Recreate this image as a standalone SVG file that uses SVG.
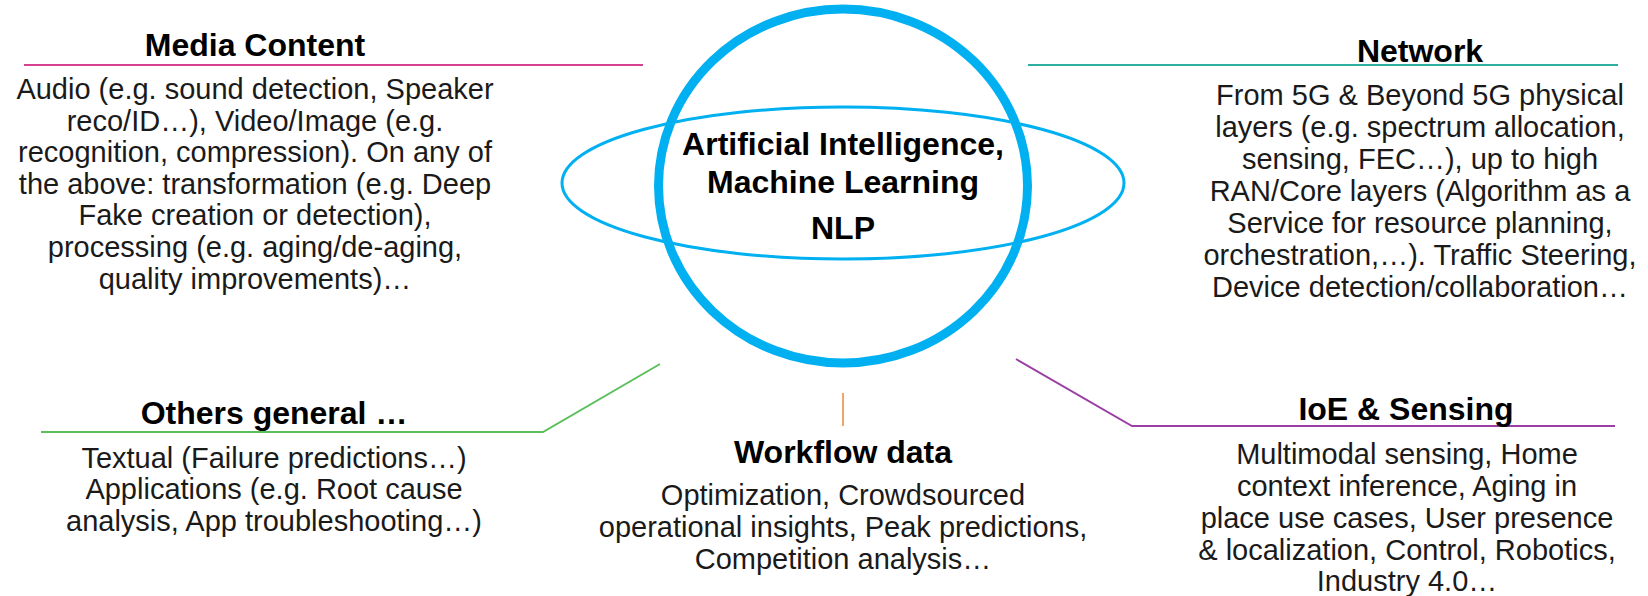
<svg xmlns="http://www.w3.org/2000/svg" width="1648" height="596" viewBox="0 0 1648 596">
<style>
.t{font-family:"Liberation Sans",Arial,sans-serif;font-weight:bold;font-size:32px;fill:#000;text-anchor:middle}
.c{font-family:"Liberation Sans",Arial,sans-serif;font-weight:bold;font-size:32px;fill:#000;text-anchor:middle}
.b{font-family:"Liberation Sans",Arial,sans-serif;font-size:29px;fill:#1a1a1a;text-anchor:middle}
.ln{fill:none;stroke-width:2}
</style>
<rect width="1648" height="596" fill="#fff"/>
<g id="connectors">
<line class="ln" x1="24" y1="65" x2="643" y2="65" stroke="#D6418F"/>
<line class="ln" x1="1028" y1="65" x2="1618" y2="65" stroke="#2EAE9E"/>
<polyline class="ln" points="41,432 543,432 660,364" stroke="#5BBF5B"/>
<line class="ln" x1="843" y1="393" x2="843" y2="426" stroke="#F4A46A"/>
<polyline class="ln" points="1016,359 1132,426 1615,426" stroke="#9B3FA5"/>
</g>
<g id="core">
<ellipse cx="843" cy="183" rx="281" ry="76" fill="none" stroke="#00B0F0" stroke-width="3"/>
<ellipse cx="843" cy="186" rx="184.5" ry="177" fill="none" stroke="#00B0F0" stroke-width="9"/>
<text class="c" x="843" y="155">Artificial Intelligence,</text>
<text class="c" x="843" y="193">Machine Learning</text>
<text class="c" x="843" y="239">NLP</text>
</g>
<g id="media">
<text class="t" x="255" y="56">Media Content</text>
<text class="b" x="255" y="99">Audio (e.g. sound detection, Speaker</text>
<text class="b" x="255" y="130.5">reco/ID…), Video/Image (e.g.</text>
<text class="b" x="255" y="162">recognition, compression). On any of</text>
<text class="b" x="255" y="193.5">the above: transformation (e.g. Deep</text>
<text class="b" x="255" y="225">Fake creation or detection),</text>
<text class="b" x="255" y="257">processing (e.g. aging/de-aging,</text>
<text class="b" x="255" y="289">quality improvements)…</text>
</g>
<g id="network">
<text class="t" x="1420" y="62">Network</text>
<text class="b" x="1420" y="105">From 5G &amp; Beyond 5G physical</text>
<text class="b" x="1420" y="137">layers (e.g. spectrum allocation,</text>
<text class="b" x="1420" y="169">sensing, FEC…), up to high</text>
<text class="b" x="1420" y="201">RAN/Core layers (Algorithm as a</text>
<text class="b" x="1420" y="233">Service for resource planning,</text>
<text class="b" x="1420" y="265">orchestration,…). Traffic Steering,</text>
<text class="b" x="1420" y="297">Device detection/collaboration…</text>
</g>
<g id="others">
<text class="t" x="274" y="424">Others general …</text>
<text class="b" x="274" y="468">Textual (Failure predictions…)</text>
<text class="b" x="274" y="499">Applications (e.g. Root cause</text>
<text class="b" x="274" y="531">analysis, App troubleshooting…)</text>
</g>
<g id="workflow">
<text class="t" x="843" y="463">Workflow data</text>
<text class="b" x="843" y="505">Optimization, Crowdsourced</text>
<text class="b" x="843" y="537">operational insights, Peak predictions,</text>
<text class="b" x="843" y="569">Competition analysis…</text>
</g>
<g id="ioe">
<text class="t" x="1406" y="420">IoE &amp; Sensing</text>
<text class="b" x="1407" y="464">Multimodal sensing, Home</text>
<text class="b" x="1407" y="496">context inference, Aging in</text>
<text class="b" x="1407" y="528">place use cases, User presence</text>
<text class="b" x="1407" y="560">&amp; localization, Control, Robotics,</text>
<text class="b" x="1407" y="591">Industry 4.0…</text>
</g>
</svg>
